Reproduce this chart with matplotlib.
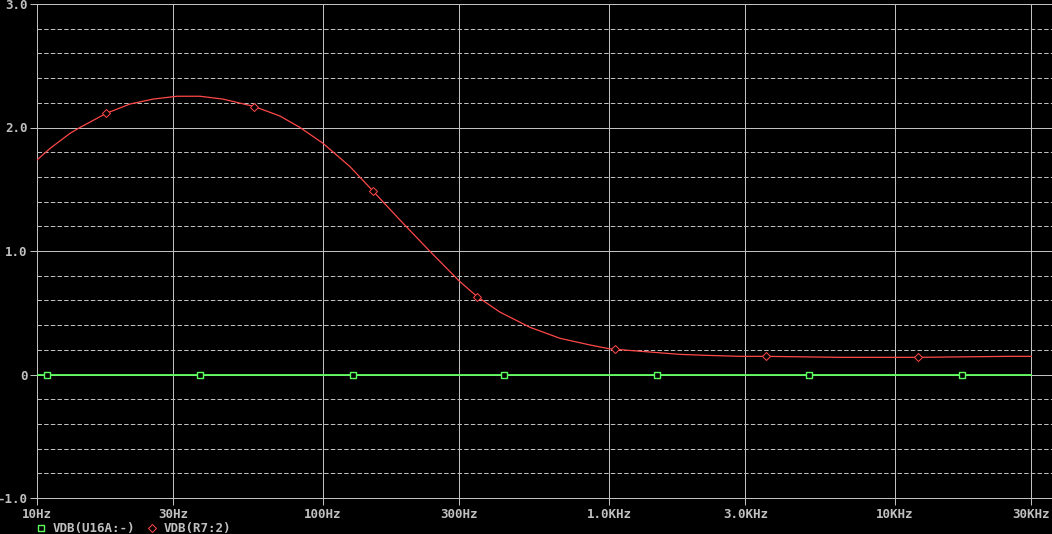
import numpy as np
import matplotlib
matplotlib.use("Agg")
import matplotlib.pyplot as plt
from matplotlib.lines import Line2D

# trace VDB(R7:2): frequency (Hz) / dB
red_freq = [10, 11.1, 13.05, 14.13, 17.47, 21.14, 25.44, 30.86, 37.15, 44.7,
            57.5, 70.7, 83.1, 100, 124.3, 149.9, 185.8, 236.6, 300, 346.3,
            415.8, 529.6, 674.3, 858.4, 1000, 1052, 1391, 1771, 2196, 2871,
            3540, 6412, 12030, 25100, 30000]
red_db = [1.737, 1.83, 1.953, 2.0, 2.115, 2.19, 2.23, 2.253, 2.253, 2.23,
          2.17, 2.093, 2.0, 1.872, 1.683, 1.483, 1.251, 0.997, 0.755, 0.63,
          0.505, 0.382, 0.293, 0.239, 0.209, 0.204, 0.182, 0.163, 0.155, 0.147,
          0.147, 0.139, 0.139, 0.147, 0.147]
red_mark_freq = [17.47, 57.5, 149.9, 346.3, 1052, 3540, 12030]
red_mark_db = [2.115, 2.17, 1.483, 0.63, 0.204, 0.147, 0.139]

# trace VDB(U16A:-)
green_freq = [10, 30000]
green_db = [0, 0]
green_mark_freq = [10.83, 37.2, 127.4, 429.6, 1475, 5013, 17180]
green_mark_db = [0, 0, 0, 0, 0, 0, 0]

xticks = [10, 30, 100, 300, 1000, 3000, 10000, 30000]
xlabels = ["10Hz", "30Hz", "100Hz", "300Hz", "1.0KHz", "3.0KHz", "10KHz", "30KHz"]
yticks = [-1, 0, 1, 2, 3]
ylabels = ["-1.0", "0", "1.0", "2.0", "3.0"]

gray = "#c0c0c0"
red = "#ff4848"
green = "#60ff60"
px = 0.72  # one pixel in points at dpi 100

plt.rcParams["font.family"] = ["DejaVu Sans Mono"]
plt.rcParams["lines.scale_dashes"] = False

fig = plt.figure(figsize=(10.52, 5.34), dpi=100, facecolor="black")
ax = fig.add_axes([37 / 1052, 36 / 534, 1015 / 1052, 494 / 534], facecolor="black")

ax.set_xscale("log")
ax.set_xlim(10, 10 ** (1 + 1015 / 286))
ax.set_ylim(-1, 3)

ax.set_xticks(xticks)
ax.set_xticklabels(xlabels)
ax.xaxis.set_minor_locator(matplotlib.ticker.NullLocator())
ax.set_yticks(yticks)
ax.set_yticklabels(ylabels)
ax.set_yticks(np.arange(-0.8, 3, 0.2), minor=True)

ax.tick_params(axis="both", which="major", colors=gray, length=5, width=px,
               labelsize=9, pad=2)
ax.tick_params(axis="y", which="minor", length=0)
for lab in ax.get_xticklabels() + ax.get_yticklabels():
    lab.set_fontweight("bold")

ax.grid(True, which="major", color=gray, lw=px)
ax.grid(True, which="minor", axis="y", color=gray, lw=px, dashes=(3.2, 1.6))
ax.set_axisbelow(True)

for s in ["left", "bottom", "top"]:
    ax.spines[s].set_color(gray)
    ax.spines[s].set_linewidth(px)
ax.spines["right"].set_visible(False)

ax.plot(green_freq, green_db, color=green, lw=1.3, zorder=3)
ax.plot(green_mark_freq, green_mark_db, ls="none", marker="s", ms=4.8,
        mfc="black", mec=green, mew=1.0, zorder=4)
ax.plot(red_freq, red_db, color=red, lw=0.9, zorder=3)
ax.plot(red_mark_freq, red_mark_db, ls="none", marker="D", ms=3.6,
        mfc="black", mec=red, mew=px, zorder=4)

handles = [Line2D([], [], ls="none", marker="s", ms=4.8, mfc="none", mec=green, mew=1.0),
           Line2D([], [], ls="none", marker="D", ms=3.6, mfc="none", mec=red, mew=px)]
leg = fig.legend(handles, ["VDB(U16A:-)", "VDB(R7:2)"], loc="lower left",
                 bbox_to_anchor=(36 / 1052, -1 / 534), ncol=2, frameon=False,
                 handlelength=0.8, handletextpad=0.5, columnspacing=1.0,
                 borderpad=0, borderaxespad=0,
                 prop={"size": 9, "weight": "bold", "family": "DejaVu Sans Mono"})
for t in leg.get_texts():
    t.set_color(gray)

fig.savefig("out.png", dpi=100, facecolor="black")
